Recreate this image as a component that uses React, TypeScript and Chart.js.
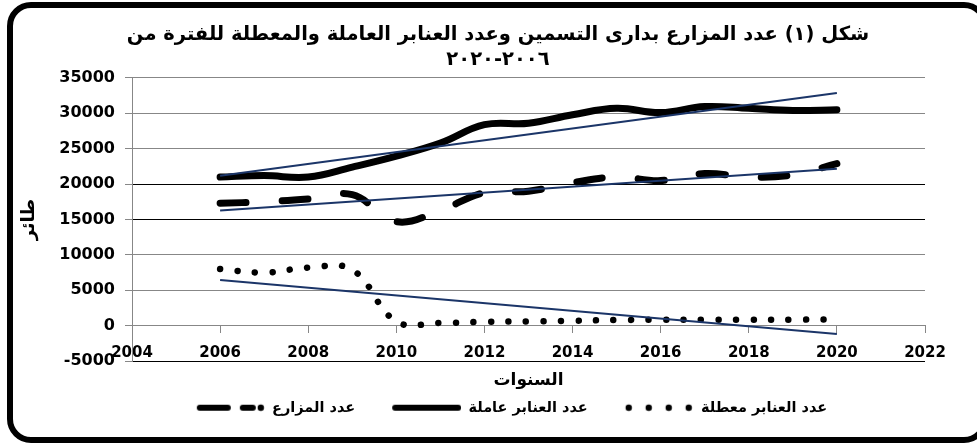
import React, { useEffect, useRef } from "react";
import { Chart, registerables } from "chart.js";

Chart.register(...registerables);

// ---------- data ----------
const years = [2006, 2007, 2008, 2009, 2010, 2011, 2012, 2013, 2014, 2015, 2016, 2017, 2018, 2019, 2020];
const farms = [17300, 17500, 17900, 18500, 14700, 16300, 18800, 19000, 20200, 21000, 20500, 21500, 21000, 21300, 22900];
const working = [21000, 21200, 21000, 22400, 23950, 25800, 28400, 28600, 29800, 30700, 30100, 30950, 30700, 30400, 30500];
const idle = [8000, 7500, 8200, 7900, 600, 400, 550, 600, 700, 800, 850, 850, 850, 850, 900];

const seriesLabels = ["عدد المزارع", "عدد العنابر عاملة", "عدد العنابر معطلة"];
const titleLines = [
  "شكل (١) عدد المزارع بدارى التسمين وعدد العنابر العاملة والمعطلة للفترة من",
  "٢٠٠٦-٢٠٢٠",
];
const xTitle = "السنوات";
const yTitle = "طائر";

const X_MIN = 2004;
const X_MAX = 2022;
const X_STEP = 2;
const Y_MIN = -5000;
const Y_MAX = 35000;
const Y_STEP = 5000;

// ---------- helpers ----------
const toPoints = (vals: number[]) => vals.map((v, i) => ({ x: years[i], y: v }));

function trend(vals: number[]) {
  const n = vals.length;
  const mx = years.reduce((a, b) => a + b, 0) / n;
  const my = vals.reduce((a, b) => a + b, 0) / n;
  let sxy = 0;
  let sxx = 0;
  for (let i = 0; i < n; i++) {
    sxy += (years[i] - mx) * (vals[i] - my);
    sxx += (years[i] - mx) * (years[i] - mx);
  }
  const b = sxy / sxx;
  const a = my - b * mx;
  const x0 = years[0];
  const x1 = years[n - 1];
  return [
    { x: x0, y: a + b * x0 },
    { x: x1, y: a + b * x1 },
  ];
}

const SAMPLE_W = 70;
const SAMPLE_GAP = 26;

function makeSample(kind: "dash" | "solid" | "dot"): HTMLCanvasElement {
  const c = document.createElement("canvas");
  c.width = SAMPLE_W + SAMPLE_GAP;
  c.height = 10;
  const g = c.getContext("2d")!;
  g.translate(SAMPLE_GAP, 0);
  g.strokeStyle = "#000";
  g.fillStyle = "#000";
  g.lineCap = "round";
  g.lineWidth = 6;
  const seg = (a: number, b: number) => {
    g.beginPath();
    g.moveTo(a, 5);
    g.lineTo(b, 5);
    g.stroke();
  };
  const dot = (x: number) => {
    g.beginPath();
    g.arc(x, 5, 3.2, 0, Math.PI * 2);
    g.fill();
  };
  if (kind === "solid") seg(4, 67);
  if (kind === "dash") {
    seg(5, 33);
    seg(48, 58);
    dot(66);
  }
  if (kind === "dot") {
    [5, 25, 45, 65].forEach(dot);
  }
  return c;
}

const FONT = "'DejaVu Sans', 'Liberation Sans', sans-serif";
const GRID_GRAY = "#878787";
const TREND = "#1b3568";

export default function App() {
  const ref = useRef<HTMLCanvasElement>(null);

  useEffect(() => {
    const samples = [makeSample("dash"), makeSample("solid"), makeSample("dot")];
    const chart = new Chart(ref.current!, {
      type: "line",
      data: {
        datasets: [
          {
            label: seriesLabels[0],
            data: toPoints(farms),
            borderColor: "#000",
            borderWidth: 7,
            borderDash: [26, 36],
            borderCapStyle: "round",
            tension: 0.4,
            pointRadius: 0,
          },
          {
            label: seriesLabels[1],
            data: toPoints(working),
            borderColor: "#000",
            borderWidth: 7,
            borderCapStyle: "round",
            tension: 0.4,
            pointRadius: 0,
          },
          {
            label: seriesLabels[2],
            data: toPoints(idle),
            borderColor: "#000",
            borderWidth: 6.5,
            borderDash: [0.01, 17.5],
            borderCapStyle: "round",
            tension: 0.4,
            pointRadius: 0,
          },
          {
            label: "trend-farms",
            data: trend(farms),
            borderColor: TREND,
            borderWidth: 2,
            pointRadius: 0,
            order: -1,
          },
          {
            label: "trend-working",
            data: trend(working),
            borderColor: TREND,
            borderWidth: 2,
            pointRadius: 0,
            order: -1,
          },
          {
            label: "trend-idle",
            data: trend(idle),
            borderColor: TREND,
            borderWidth: 2,
            pointRadius: 0,
            order: -1,
          },
        ],
      },
      options: {
        responsive: false,
        animation: false,
        devicePixelRatio: 1,
        layout: { padding: { left: 19, top: 0, right: 0, bottom: 19 } },
        plugins: {
          tooltip: { enabled: false },
          title: {
            display: true,
            text: titleLines,
            color: "#000",
            font: { family: FONT, size: 19.5, weight: "bold", lineHeight: 1.28 },
            padding: { top: 22, bottom: 6 },
          },
          legend: {
            position: "bottom",
            labels: {
              usePointStyle: true,
              pointStyleWidth: SAMPLE_W + SAMPLE_GAP,
              boxHeight: 10,
              padding: 10,
              color: "#000",
              font: { family: FONT, size: 14.5, weight: "bold" },
              filter: (item: any) => item.datasetIndex < 3,
              generateLabels: (ch: any) => {
                const items = (Chart.defaults.plugins.legend.labels as any).generateLabels(ch);
                return items.map((it: any) => ({
                  ...it,
                  pointStyle: it.datasetIndex < 3 ? samples[it.datasetIndex] : it.pointStyle,
                }));
              },
            },
          },
        },
        scales: {
          x: {
            type: "linear",
            position: { y: 0 } as any,
            min: X_MIN,
            max: X_MAX,
            ticks: {
              stepSize: X_STEP,
              color: "#000",
              padding: 11,
              font: { family: FONT, size: 15, weight: "bold" },
              callback: (v: any) => String(v),
            },
            grid: {
              drawOnChartArea: false,
              drawTicks: true,
              tickLength: 7,
              tickColor: GRID_GRAY,
            },
            border: { display: true, color: GRID_GRAY },
          },
          x2: {
            type: "linear",
            position: "bottom",
            min: X_MIN,
            max: X_MAX,
            ticks: { display: false },
            grid: { display: false, drawTicks: false },
            border: { display: false },
            title: {
              display: true,
              text: xTitle,
              color: "#000",
              font: { family: FONT, size: 17, weight: "bold", lineHeight: 1.2 },
              padding: { top: 9, bottom: 0 },
            },
          },
          y: {
            type: "linear",
            min: Y_MIN,
            max: Y_MAX,
            afterFit: (s: any) => {
              s.width = 113;
            },
            ticks: {
              stepSize: Y_STEP,
              color: "#000",
              padding: 10,
              font: { family: FONT, size: 16, weight: "bold" },
              callback: (v: any) => String(v),
            },
            grid: {
              color: (c: any) =>
                c.tick && [20000, 15000, -5000].includes(c.tick.value) ? "#000" : GRID_GRAY,
              tickColor: GRID_GRAY,
              tickLength: 7,
            },
            border: { display: true, color: GRID_GRAY },
            title: {
              display: true,
              text: yTitle,
              color: "#000",
              font: { family: FONT, size: 18, weight: "bold", lineHeight: 1.2 },
              padding: { top: 0, bottom: 0 },
            },
          },
          yR: {
            type: "linear",
            position: "right",
            display: true,
            min: 0,
            max: 1,
            ticks: { display: false },
            grid: { display: false, drawTicks: false },
            border: { display: false },
            afterFit: (s: any) => {
              s.width = 52;
            },
          },
        },
      } as any,
    });
    return () => chart.destroy();
  }, []);

  return (
    <div
      style={{
        position: "fixed",
        left: 0,
        top: 0,
        width: 977,
        height: 444,
        overflow: "hidden",
        background: "#fff",
      }}
    >
      <canvas
        ref={ref}
        width={977}
        height={444}
        style={{ position: "absolute", left: 0, top: 0, width: 977, height: 444 }}
      />
      <div
        style={{
          position: "absolute",
          left: 7,
          top: 2,
          width: 981,
          height: 441,
          boxSizing: "border-box",
          border: "6px solid #000",
          borderRadius: 24,
          pointerEvents: "none",
        }}
      />
    </div>
  );
}
